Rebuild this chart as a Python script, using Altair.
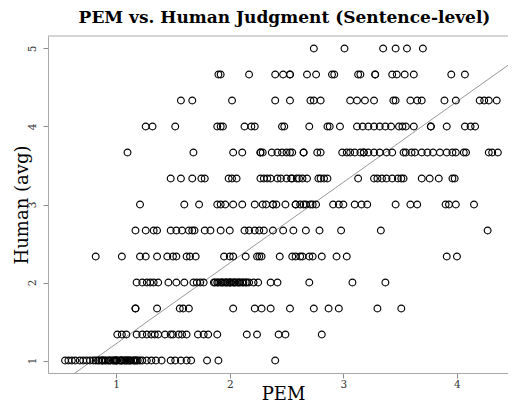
import altair as alt
import pandas as pd

# Human (avg) levels (averages of three judges)
human_levels = [1.0, 4/3, 5/3, 2.0, 7/3, 8/3, 3.0, 10/3, 11/3, 4.0, 13/3, 14/3, 5.0]

# PEM scores observed at each Human (avg) level
pem_h1_00 = [0.55, 0.58, 0.61, 0.64, 0.68, 0.71, 0.74, 0.77, 0.80, 0.82,
             0.84, 0.85, 0.87, 0.88, 0.88, 0.90, 0.91, 0.93, 0.94, 0.95, 0.97, 0.98,
             0.99, 1.00, 1.00, 1.01, 1.03, 1.04, 1.05, 1.05, 1.07, 1.08, 1.09, 1.10,
             1.11, 1.12, 1.13, 1.15, 1.16, 1.17, 1.18, 1.19, 1.21,
             1.23, 1.27, 1.31, 1.35, 1.40, 1.48, 1.52, 1.57, 1.62, 1.66, 1.80, 1.90, 2.40]
pem_h1_33 = [1.01, 1.05, 1.09, 1.18, 1.23, 1.27, 1.31, 1.34, 1.37, 1.43, 1.48, 1.50,
             1.55, 1.58, 1.62, 1.72, 1.77, 1.81, 1.89, 2.15, 2.24, 2.43, 2.49, 2.81]
pem_h1_67 = [1.17, 1.17, 1.36, 1.56, 1.59, 1.64, 2.03, 2.22, 2.28, 2.36, 2.53, 2.74,
             2.87, 2.96, 3.30, 3.51]
pem_h2_00 = [1.18, 1.23, 1.27, 1.30, 1.33, 1.37, 1.46, 1.53, 1.60, 1.68, 1.71, 1.74, 1.77,
             1.86, 1.87, 1.89, 1.90, 1.92, 1.93, 1.94, 1.96, 1.97, 1.98, 2.00, 2.00,
             2.01, 2.03, 2.04, 2.05, 2.07, 2.08, 2.09, 2.11, 2.12, 2.14, 2.15, 2.17,
             2.21, 2.25, 2.36, 2.42, 2.70, 3.08, 3.37]
pem_h2_33 = [0.82, 1.05, 1.21, 1.26, 1.36, 1.45, 1.50, 1.53, 1.62, 1.65, 1.70, 1.95,
             2.00, 2.03, 2.14, 2.24, 2.26, 2.28, 2.44, 2.55, 2.58, 2.62, 2.64, 2.70,
             2.73, 2.81, 2.94, 3.03, 3.91, 4.00]
pem_h2_67 = [1.17, 1.26, 1.33, 1.36, 1.48, 1.53, 1.58, 1.64, 1.67, 1.69, 1.78, 1.83,
             1.92, 2.00, 2.13, 2.17, 2.22, 2.26, 2.30, 2.38, 2.47, 2.56, 2.67, 2.79,
             2.98, 3.33, 4.27]
pem_h3_00 = [1.21, 1.60, 1.73, 1.89, 1.92, 1.96, 2.03, 2.11, 2.22, 2.29, 2.32, 2.38,
             2.38, 2.41, 2.49, 2.58, 2.58, 2.62, 2.65, 2.67, 2.71, 2.73, 2.76, 2.91,
             2.96, 3.00, 3.10, 3.16, 3.21, 3.46, 3.59, 3.65, 3.90, 3.93, 3.99, 4.15]
pem_h3_33 = [1.48, 1.57, 1.67, 1.75, 1.78, 1.99, 2.02, 2.06, 2.27, 2.30, 2.33, 2.36,
             2.42, 2.45, 2.50, 2.54, 2.55, 2.59, 2.61, 2.64, 2.68, 2.78, 2.80, 2.83,
             2.86, 3.13, 3.27, 3.30, 3.34, 3.38, 3.43, 3.48, 3.51, 3.53, 3.69, 3.76,
             3.84, 3.96, 3.98]
pem_h3_67 = [1.10, 1.68, 2.03, 2.11, 2.27, 2.27, 2.29, 2.37, 2.42, 2.46, 2.50, 2.53,
             2.55, 2.65, 2.65, 2.77, 2.80, 2.99, 3.03, 3.06, 3.10, 3.15, 3.18, 3.18,
             3.22, 3.27, 3.32, 3.38, 3.43, 3.53, 3.55, 3.60, 3.63, 3.69, 3.74, 3.79,
             3.85, 3.91, 3.96, 3.99, 4.06, 4.08, 4.28, 4.31, 4.36]
pem_h4_00 = [1.26, 1.32, 1.52, 1.89, 1.92, 1.94, 2.13, 2.19, 2.22, 2.46, 2.48, 2.70,
             2.86, 2.88, 2.97, 3.12, 3.17, 3.22, 3.27, 3.32, 3.37, 3.42, 3.49, 3.52,
             3.55, 3.62, 3.77, 3.77, 3.91, 4.07, 4.12, 4.16]
pem_h4_33 = [1.57, 1.67, 2.02, 2.40, 2.53, 2.71, 2.74, 2.80, 3.06, 3.12, 3.19, 3.27,
             3.44, 3.46, 3.59, 3.65, 3.69, 3.89, 3.99, 4.20, 4.24, 4.28, 4.35]
pem_h4_67 = [1.90, 1.92, 2.17, 2.40, 2.47, 2.53, 2.53, 2.68, 2.76, 2.90, 2.92, 3.13,
             3.15, 3.28, 3.28, 3.43, 3.47, 3.54, 3.62, 3.95, 4.07]
pem_h5_00 = [2.74, 3.01, 3.35, 3.46, 3.56, 3.70]

pem_by_level = [pem_h1_00, pem_h1_33, pem_h1_67, pem_h2_00, pem_h2_33, pem_h2_67,
                pem_h3_00, pem_h3_33, pem_h3_67, pem_h4_00, pem_h4_33, pem_h4_67,
                pem_h5_00]

rows = [{"PEM": x, "Human": h} for h, xs in zip(human_levels, pem_by_level) for x in xs]
df = pd.DataFrame(rows)

# fitted line (Human = intercept + slope * PEM)
fit_intercept = 0.18
fit_slope = 1.035
line_pem = [0.40, 4.50]
line_df = pd.DataFrame({"PEM": line_pem,
                        "Human": [fit_intercept + fit_slope * v for v in line_pem]})

x_ticks = [1, 2, 3, 4]
y_ticks = [1, 2, 3, 4, 5]
title_text = "PEM vs. Human Judgment (Sentence-level)"

W, H = 460, 337
FONT = "DejaVu Serif"
xscale = alt.Scale(domain=[0.40, 0.40 + W / 113.6], nice=False, zero=False)
yscale = alt.Scale(domain=[0.84, 5.16], nice=False, zero=False)

points = alt.Chart(df).mark_point(
    shape="circle", filled=False, color="black", size=46, strokeWidth=1.15, opacity=1
).encode(
    x=alt.X("PEM:Q", scale=xscale,
            axis=alt.Axis(values=x_ticks, format="d", title="PEM", titleY=26,
                          titleX=235, titleBaseline="alphabetic", labelPadding=1)),
    y=alt.Y("Human:Q", scale=yscale,
            axis=alt.Axis(values=y_ticks, format="d", title="Human (avg)",
                          labelAngle=270, labelAlign="center", labelBaseline="alphabetic",
                          labelPadding=8, titleX=-21, titleY=H / 2, titleAngle=270,
                          titleAlign="center", titleBaseline="alphabetic")),
)

fit = alt.Chart(line_df).mark_line(color="#8c8c8c", strokeWidth=0.9, clip=True).encode(
    x=alt.X("PEM:Q", scale=xscale),
    y=alt.Y("Human:Q", scale=yscale),
)

top_border = alt.Chart(pd.DataFrame({"k": [0]})).mark_rule(color="#a8a8a8", strokeWidth=1).encode(
    x=alt.value(0), x2=alt.value(W), y=alt.value(0)
)

title_mark = alt.Chart(pd.DataFrame({"t": [title_text]})).mark_text(
    font=FONT, fontSize=17, fontWeight="bold", color="black",
    align="center", baseline="alphabetic"
).encode(text="t:N", x=alt.value(236.5), y=alt.value(-13))

chart = alt.layer(fit, points, top_border, title_mark).properties(
    width=W, height=H,
    autosize=alt.AutoSizeParams(type="none"),
    padding={"left": 40, "top": 28, "right": 0, "bottom": 32},
).configure_view(stroke=None).configure_axis(
    grid=False, domainColor="#a8a8a8", domainWidth=1, tickColor="#8c8c8c",
    tickSize=5, labelFont=FONT, labelFontSize=10.5, labelColor="#333333",
    titleFont=FONT, titleFontSize=18, titleFontWeight="normal", titleColor="black",
)

chart.save("out.html", embed_options={"renderer": "svg", "actions": False})
